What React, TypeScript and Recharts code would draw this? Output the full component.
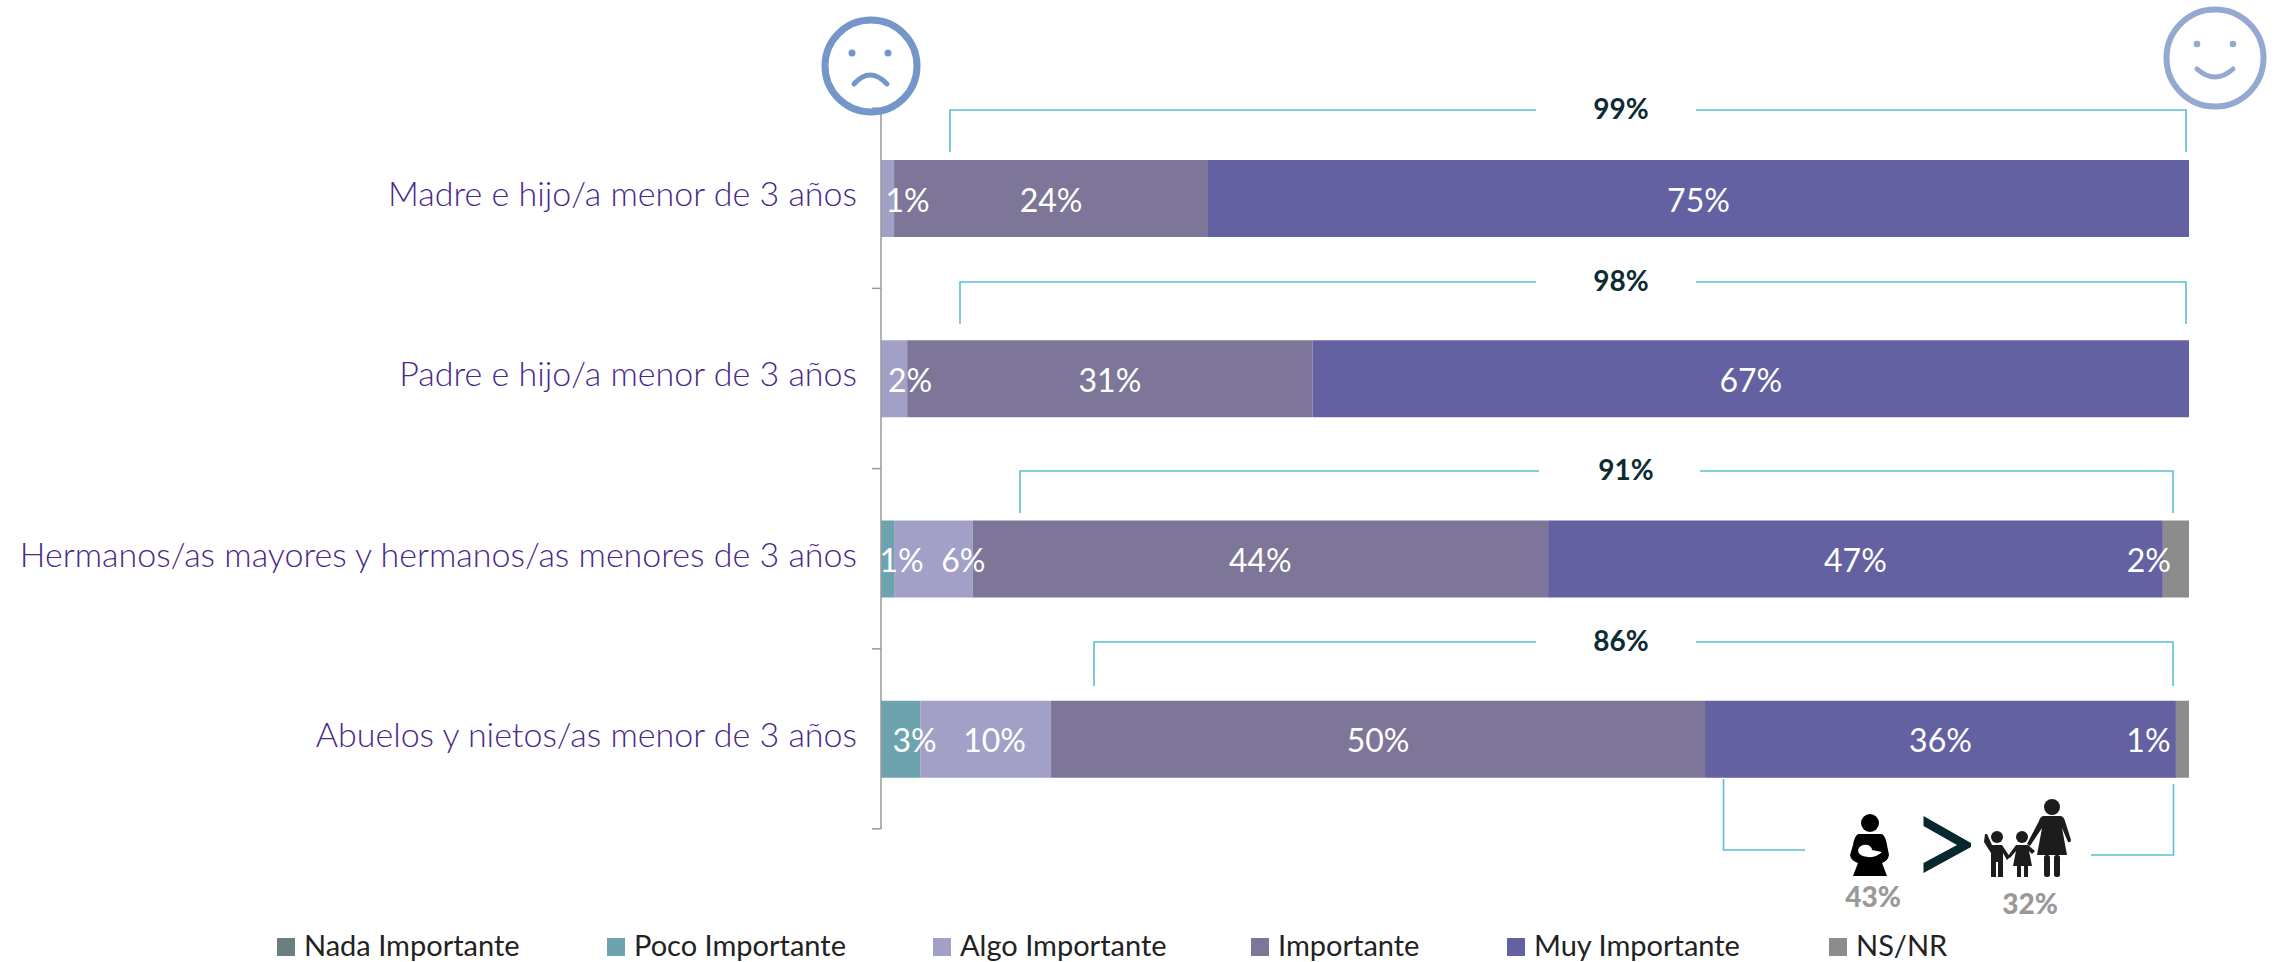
import { BarChart, Bar, XAxis, YAxis, Legend, LabelList } from 'recharts';

const categories = [
  'Madre e hijo/a menor de 3 años',
  'Padre e hijo/a menor de 3 años',
  'Hermanos/as mayores y hermanos/as menores de 3 años',
  'Abuelos y nietos/as menor de 3 años',
];
const nada = [0, 0, 0, 0];
const poco = [0, 0, 1, 3];
const algo = [1, 2, 6, 10];
const importante = [24, 31, 44, 50];
const muy = [75, 67, 47, 36];
const nsnr = [0, 0, 2, 1];

const seriesNames = ['Nada Importante', 'Poco Importante', 'Algo Importante', 'Importante', 'Muy Importante', 'NS/NR'];
const seriesColors = ['#6b7f80', '#6da3ae', '#a3a0c8', '#7e7698', '#6461a2', '#8c8c8c'];
const seriesValues = [nada, poco, algo, importante, muy, nsnr];

const topBoxLabels = ['99%', '98%', '91%', '86%'];
const genderLabels = ['43%', '32%'];

const data = categories.map((name, i) => {
  const row: Record<string, string | number> = { name };
  seriesNames.forEach((s, j) => {
    row[s] = seriesValues[j][i];
  });
  return row;
});

// labels that were dragged off centre in the original, px. one entry per non-zero bar,
// recharts skips the empty segments when it numbers the labels
const labelShift: Record<string, number[]> = {
  'Poco Importante': [14, 14],
  'Algo Importante': [20, 16, 30, 9],
  'NS/NR': [-27, -34],
};

const legendLeft = [277, 607, 933, 1251, 1507, 1829];
const fontBody = 'Lato, sans-serif';
const teal = '#5bbdd6';

function CategoryTick({ y, payload, index }: any) {
  return (
    <g>
      <line x1={872} x2={881} y1={y - 90} y2={y - 90} stroke="#999" strokeWidth={1.5} />
      {index === categories.length - 1 && (
        <line x1={872} x2={881} y1={y + 90} y2={y + 90} stroke="#999" strokeWidth={1.5} />
      )}
      <text x={857} y={y} dy={8} textAnchor="end" fill="#48298a" fontFamily={fontBody} fontWeight={300} fontSize={34}>
        {payload.value}
      </text>
    </g>
  );
}

function makeLabel(series: string) {
  return function SegmentLabel({ x, y, width, height, value, index }: any) {
    if (!value) return null;
    const shift = labelShift[series]?.[index] ?? 0;
    return (
      <text
        x={x + width / 2 + shift}
        y={y + height / 2 + 2}
        dy={11}
        textAnchor="middle"
        fill="#fff"
        fontFamily={fontBody}
        fontSize={32}
      >
        {value}%
      </text>
    );
  };
}

function LegendRow({ payload }: any) {
  return (
    <div style={{ position: 'relative', width: 2279, height: 30 }}>
      {payload.map((entry: any, i: number) => (
        <div key={entry.value} style={{ position: 'absolute', left: legendLeft[i], top: 0, display: 'flex', alignItems: 'center', height: 30 }}>
          <span style={{ width: 18, height: 18, background: entry.color, marginRight: 9, display: 'block', position: 'relative', top: 2 }} />
          <span style={{ fontFamily: fontBody, fontSize: 29, color: '#222', lineHeight: '30px', whiteSpace: 'nowrap' }}>{entry.value}</span>
        </div>
      ))}
    </div>
  );
}

function Bracket({ x1, x2, y, yLeft, yRight, gapFrom, gapTo, label, labelX }: any) {
  return (
    <g>
      <path d={`M${x1} ${yLeft}V${y}H${gapFrom}M${gapTo} ${y}H${x2}V${yRight}`} fill="none" stroke={teal} strokeWidth={1.6} />
      <text x={labelX} y={y + 9} textAnchor="middle" fontFamily={fontBody} fontWeight={700} fontSize={28} fill="#0d2b33">
        {label}
      </text>
    </g>
  );
}

function Annotations() {
  return (
    <svg width={2279} height={962} style={{ position: 'absolute', left: 0, top: 0, pointerEvents: 'none' }}>
      <circle cx={871} cy={66} r={46} fill="none" stroke="#7496c8" strokeWidth={7} />
      <circle cx={852} cy={53} r={3.5} fill="#7496c8" />
      <circle cx={888} cy={53} r={3.5} fill="#7496c8" />
      <path d="M854 84Q870 66 887 84" fill="none" stroke="#7496c8" strokeWidth={5} strokeLinecap="round" />

      <circle cx={2215} cy={58} r={48.5} fill="none" stroke="#93a9d0" strokeWidth={6} />
      <circle cx={2197} cy={44} r={3.3} fill="#93a9d0" />
      <circle cx={2233} cy={44} r={3.3} fill="#93a9d0" />
      <path d="M2197 69Q2215 85 2233 69" fill="none" stroke="#93a9d0" strokeWidth={5} strokeLinecap="round" />

      <Bracket x1={950} x2={2186} y={110} yLeft={152} yRight={152} gapFrom={1536} gapTo={1696} label={topBoxLabels[0]} labelX={1621} />
      <Bracket x1={960} x2={2186} y={282} yLeft={324} yRight={324} gapFrom={1536} gapTo={1696} label={topBoxLabels[1]} labelX={1621} />
      <Bracket x1={1020} x2={2173} y={471} yLeft={513} yRight={513} gapFrom={1539} gapTo={1700} label={topBoxLabels[2]} labelX={1626} />
      <Bracket x1={1094} x2={2173} y={642} yLeft={686} yRight={686} gapFrom={1536} gapTo={1696} label={topBoxLabels[3]} labelX={1621} />

      <path d="M1723.5 779V850H1805" fill="none" stroke={teal} strokeWidth={1.6} />
      <path d="M2091 855H2173.5V784" fill="none" stroke={teal} strokeWidth={1.6} />

      {/* mother with baby */}
      <circle cx={1870} cy={823} r={9} fill="#000" />
      <path d="M1858 834H1882Q1886 837 1887 845L1889 855Q1888 861 1882 863L1887 876H1853L1858 863Q1851 861 1850 855L1853 845Q1854 837 1858 834Z" fill="#000" />
      <path d="M1858 850Q1860 844 1868 845Q1872 847 1872 850L1882 852Q1876 858 1868 857Q1858 856 1858 850Z" fill="#fff" />

      <path d="M1923.5 816L1971 843V847L1923.5 873V863L1957 845L1923.5 826Z" fill="#06282e" />

      {/* woman and two children */}
      <g fill="#1c1c1c">
        <circle cx={2052} cy={807} r={8} />
        <path d="M2043 816H2061Q2064 817 2065 821L2071 840Q2071 843 2068 842L2062 828L2067 855H2037L2042 828L2030 846L2027 844L2039 821Q2040 817 2043 816Z" />
        <rect x={2044} y={855} width={6} height={22} rx={2.5} />
        <rect x={2054} y={855} width={6} height={22} rx={2.5} />
        <circle cx={1997} cy={837} r={6} />
        <path d="M1985 834L1987 834L1992 845H2002L2010 857L2007 860L2003 853V877H1998V862H1996V877H1991V853L1984 842Z" />
        <circle cx={2022} cy={837} r={6} />
        <path d="M2016 845H2028L2035 851L2032 854L2029 851L2032 866H2028V877H2024V866H2021V877H2017V866H2013L2016 851L2010 858L2008 856Z" />
      </g>

      <text x={1873} y={907} textAnchor="middle" fontFamily={fontBody} fontWeight={900} fontSize={28} fill="#999">{genderLabels[0]}</text>
      <text x={2030} y={914} textAnchor="middle" fontFamily={fontBody} fontWeight={900} fontSize={28} fill="#999">{genderLabels[1]}</text>
    </svg>
  );
}

export default function App() {
  return (
    <div style={{ position: 'absolute', left: 0, top: 0, width: 2279, height: 962, background: '#fff', overflow: 'hidden' }}>
      <BarChart
        width={2279}
        height={962}
        data={data}
        layout="vertical"
        barSize={77}
        margin={{ top: 108, right: 90, bottom: 103, left: 0 }}
      >
        <XAxis type="number" domain={[0, 100]} hide />
        <YAxis
          type="category"
          dataKey="name"
          width={881}
          interval={0}
          tickLine={false}
          tick={CategoryTick}
          axisLine={{ stroke: '#999', strokeWidth: 1.5 }}
        />
        {seriesNames.map((s, i) => (
          <Bar key={s} dataKey={s} stackId="a" fill={seriesColors[i]} isAnimationActive={false}>
            <LabelList dataKey={s} content={makeLabel(s)} />
          </Bar>
        ))}
        <Legend
          content={LegendRow}
          itemSorter={null}
          wrapperStyle={{ position: 'absolute', left: 0, top: 930, width: 2279, height: 30 }}
        />
      </BarChart>
      <Annotations />
    </div>
  );
}
